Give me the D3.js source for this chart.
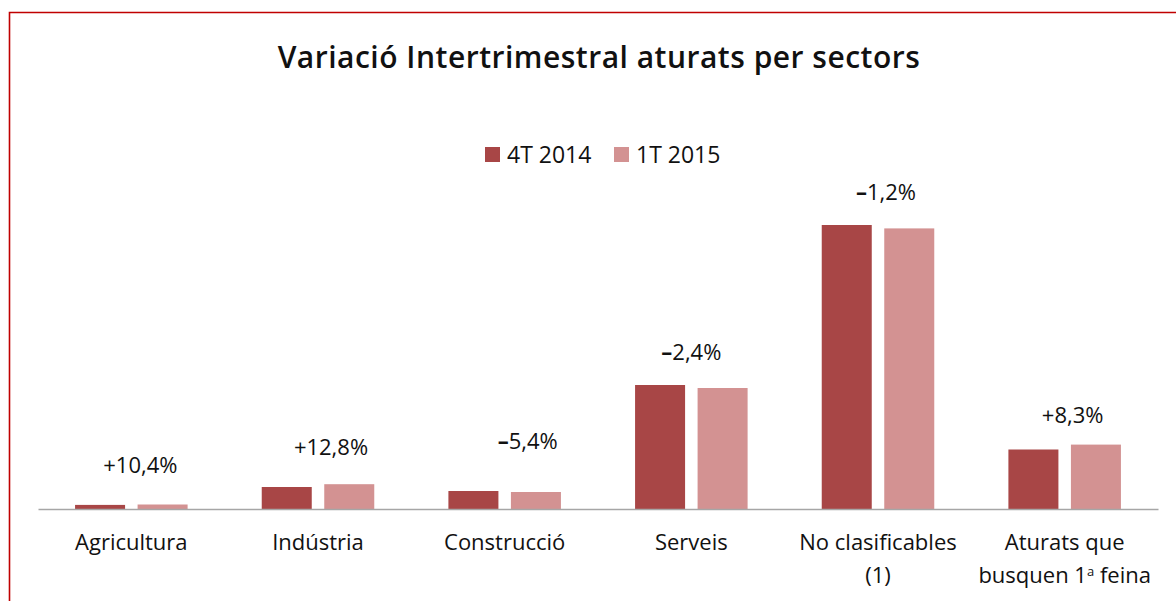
<!DOCTYPE html>
<meta charset="utf-8">
<script src="https://d3js.org/d3.v7.min.js"></script>
<style>
    html, body {
        margin: 0;
        background-color: white;
    }
    text {
        font-family: "Open Sans", sans-serif;
        fill: #111;
    }
</style>
<body></body>
<script>

    // DATA
    const categories = ["Agricultura", "Indústria", "Construcció", "Serveis", "No clasificables\n(1)", "Aturats que\nbusquen 1ª feina"];
    const seriesNames = ["4T 2014", "1T 2015"];
    const values4T2014 = [4.1, 22.0, 18.0, 124.0, 284.0, 59.5];
    const values1T2015 = [4.5, 24.8, 17.0, 121.0, 280.6, 64.4];
    const variation = ["+10,4%", "+12,8%", "–5,4%", "–2,4%", "–1,2%", "+8,3%"];

    // DESIGN CONSTANTS
    const width = 1176;
    const height = 601;
    const colors = ["#a84646", "#d39292"];
    const baseY = 509;

    // hand placed annotation boxes, relative to group centre / tallest bar
    const labelNudge = [[9, -32], [13, -29], [23, -42], [0, -25], [8, -25], [8, -22]];

    const svg = d3.select("body").append("svg")
        .attr("width", width)
        .attr("height", height);

    // red frame (only the top and left edges are visible)
    svg.append("path")
        .attr("d", `M9.5 ${height} V12.5 H${width}`)
        .attr("fill", "none")
        .attr("stroke", "#c00000")
        .attr("stroke-width", 1.6);

    // title
    svg.append("text")
        .attr("x", 599)
        .attr("y", 68)
        .attr("text-anchor", "middle")
        .style("font-size", "30px")
        .style("font-weight", 600)
        .style("letter-spacing", "0.5px")
        .text("Variació Intertrimestral aturats per sectors");

    // scales
    const x0 = d3.scaleBand()
        .domain(categories)
        .range([38, 1158]);

    const x1 = d3.scaleBand()
        .domain(seriesNames)
        .range([0, x0.bandwidth()])
        .paddingInner(0.2)
        .paddingOuter(0.593);

    const y = d3.scaleLinear()
        .domain([0, 300])
        .range([baseY, baseY - 300]);

    const rows = categories.map((c, i) => ({
        cat: c,
        vals: [values4T2014[i], values1T2015[i]],
        label: variation[i],
        nudge: labelNudge[i]
    }));

    // bars
    const groups = svg.append("g").selectAll("g")
        .data(rows)
        .join("g")
        .attr("transform", d => `translate(${x0(d.cat)},0)`);

    groups.selectAll("rect")
        .data(d => d.vals.map((v, j) => ({ key: seriesNames[j], v: v, j: j })))
        .join("rect")
        .attr("x", d => x1(d.key))
        .attr("width", x1.bandwidth())
        .attr("y", d => y(d.v))
        .attr("height", d => y(0) - y(d.v))
        .attr("fill", d => colors[d.j]);

    // variation labels (the dash is drawn heavier, as in the source)
    groups.append("text")
        .attr("x", d => x0.bandwidth() / 2 + d.nudge[0])
        .attr("y", d => y(d3.max(d.vals)) + d.nudge[1])
        .attr("text-anchor", "middle")
        .style("font-size", "22px")
        .each(function(d) {
            const t = d3.select(this);
            if (d.label[0] === "–") {
                t.append("tspan").style("font-weight", 700).text("–");
                t.append("tspan").text(d.label.slice(1));
            } else {
                t.text(d.label);
            }
        });

    // axis
    const xAxis = d3.axisBottom(x0).tickSize(0).tickFormat("");
    const axisG = svg.append("g")
        .attr("transform", `translate(0,${baseY})`)
        .call(xAxis);
    axisG.select(".domain")
        .attr("stroke", "#a6a6a6")
        .attr("stroke-width", 1.6);

    // category labels (multi-line)
    const catLabels = svg.append("g").selectAll("text")
        .data(categories)
        .join("text")
        .attr("x", d => x0(d) + x0.bandwidth() / 2)
        .attr("y", 550)
        .attr("text-anchor", "middle")
        .style("font-size", "22px");

    catLabels.each(function(d) {
        const lines = d.split("\n");
        const t = d3.select(this);
        lines.forEach((line, k) => {
            const parts = line.split("ª");
            t.append("tspan")
                .attr("x", x0(d) + x0.bandwidth() / 2)
                .attr("dy", k === 0 ? 0 : 33)
                .text(parts[0]);
            if (parts.length > 1) {
                t.append("tspan")
                    .attr("dy", -7)
                    .style("font-size", "13px")
                    .text("a");
                t.append("tspan")
                    .attr("dy", 7)
                    .text(parts[1]);
            }
        });
    });

    // legend
    const legend = svg.append("g")
        .selectAll("g")
        .data(seriesNames)
        .join("g")
        .attr("transform", (d, i) => `translate(${485 + i * 129},147)`);

    legend.append("rect")
        .attr("width", 15)
        .attr("height", 15)
        .attr("fill", (d, i) => colors[i]);

    legend.append("text")
        .attr("x", 22)
        .attr("y", 16)
        .style("font-size", "23px")
        .text(d => d);

</script>
